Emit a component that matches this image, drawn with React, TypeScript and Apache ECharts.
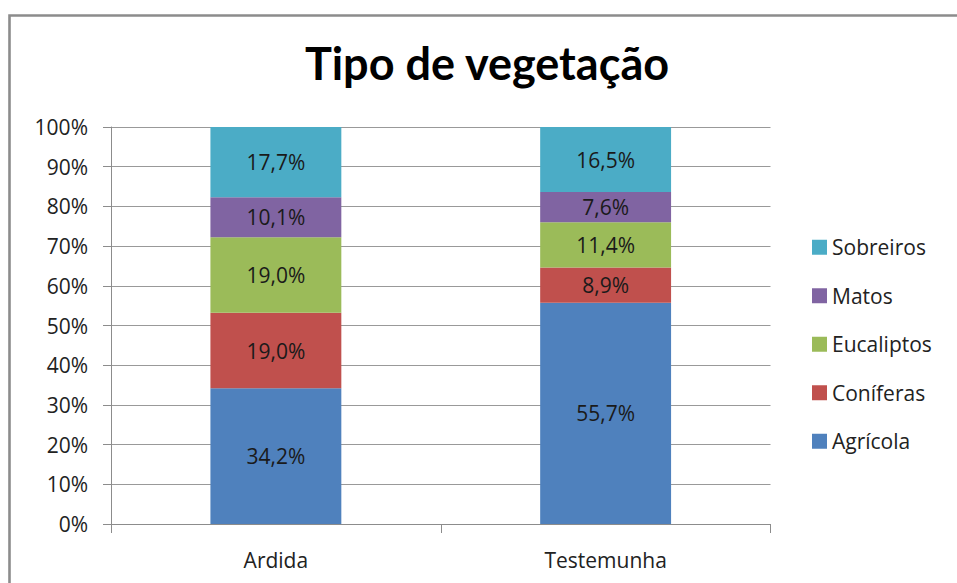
import React, { useEffect, useRef } from "react";
import * as echarts from "echarts";

const categories = ["Ardida", "Testemunha"];
const seriesNames = ["Agrícola", "Coníferas", "Eucaliptos", "Matos", "Sobreiros"];
const agricola = [34.2, 55.7];
const coniferas = [19.0, 8.9];
const eucaliptos = [19.0, 11.4];
const matos = [10.1, 7.6];
const sobreiros = [17.7, 16.5];
const colors = ["#4F81BD", "#C0504D", "#9BBB59", "#8064A2", "#4BACC6"];
const legendOrder = ["Sobreiros", "Matos", "Eucaliptos", "Coníferas", "Agrícola"];

const TITLE_FONT = "Lato";
const FONT = "Open Sans";

export default function App() {
  const ref = useRef<HTMLDivElement>(null);
  useEffect(() => {
    if (!ref.current) return;
    const chart = echarts.init(ref.current, null, { renderer: "svg" });
    const values = [agricola, coniferas, eucaliptos, matos, sobreiros];
    chart.setOption({
      animation: false,
      backgroundColor: "#ffffff",
      title: {
        text: "Tipo de vegetação",
        left: 482,
        textAlign: "center",
        top: 35,
        textStyle: { fontFamily: TITLE_FONT, fontWeight: "bold", fontSize: 45, color: "#000" },
      },
      graphic: [
        {
          type: "rect",
          shape: { x: 9.5, y: 15.5, width: 1100, height: 1100 },
          style: { fill: "none", stroke: "#8c8c8c", lineWidth: 2.6 },
          silent: true,
        },
      ],
      legend: {
        orient: "vertical",
        left: 812,
        top: 233,
        padding: 0,
        data: legendOrder,
        itemWidth: 15,
        itemHeight: 15,
        itemGap: 20,
        icon: "rect",
        textStyle: { fontFamily: FONT, fontSize: 21, color: "#222", lineHeight: 28.5, padding: [0, 0, 0, 0] },
      },
      grid: { left: 111, right: 186.5, top: 127, bottom: 59, containLabel: false },
      xAxis: {
        type: "category",
        data: categories,
        axisLine: { show: true, lineStyle: { color: "#8c8c8c", width: 1 } },
        axisTick: { show: true, length: 9, lineStyle: { color: "#8c8c8c" } },
        axisLabel: { fontFamily: FONT, fontSize: 21, color: "#222", margin: 25 },
      },
      yAxis: {
        type: "value",
        min: 0,
        max: 100,
        interval: 10,
        axisLine: { show: true, lineStyle: { color: "#8c8c8c", width: 1 } },
        axisTick: { show: true, length: 8, lineStyle: { color: "#8c8c8c" } },
        axisLabel: {
          fontFamily: FONT,
          fontSize: 21,
          color: "#222",
          margin: 23,
          formatter: (v: number) => v + "%",
        },
        splitLine: { show: true, lineStyle: { color: "#999", width: 1 } },
      },
      series: seriesNames.map((name, i) => ({
        name,
        type: "bar",
        stack: "total",
        barWidth: "39.7%",
        data: values[i],
        itemStyle: { color: colors[i] },
        label: {
          show: true,
          position: "inside",
          fontFamily: FONT,
          fontSize: 21,
          color: "#1a1a1a",
          formatter: (p: any) => p.value.toFixed(1).replace(".", ",") + "%",
        },
      })),
    });
    return () => chart.dispose();
  }, []);
  return (
    <div
      ref={ref}
      style={{ position: "fixed", left: 0, top: 0, width: 957, height: 583 }}
    />
  );
}
